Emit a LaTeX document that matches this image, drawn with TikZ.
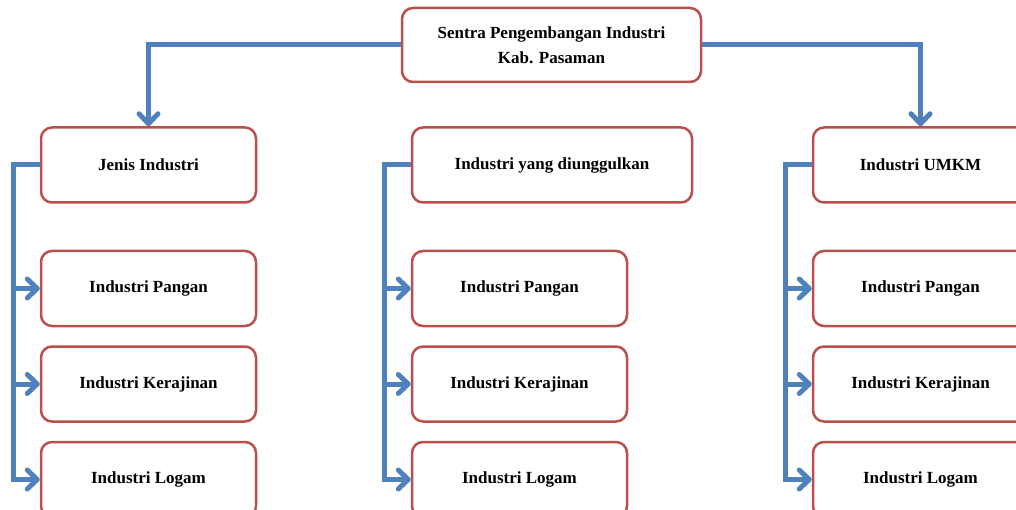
\documentclass[tikz,border=0pt]{standalone}
\usepackage{fontspec}
\setmainfont{Liberation Serif}
\usetikzlibrary{arrows.meta}
\usetikzlibrary{positioning}
\definecolor{boxred}{HTML}{B9504E}
\definecolor{linkblue}{HTML}{4F81BD}

\begin{document}
\begin{tikzpicture}[x=1pt,y=-1pt,
	kotak/.style={draw=boxred, line width=2.5pt, rounded corners=11pt, fill=white,
		minimum width=215pt, minimum height=75pt, align=center,
		font=\fontsize{17}{25}\selectfont\bfseries},
	garis/.style={draw=linkblue, line width=5pt},
	panah/.style={garis, -{Straight Barb[length=10pt,width=19pt,round]}}]
	\useasboundingbox (0,0) rectangle (1016,510);
	% draw top box
	\node[kotak, minimum width=299pt, minimum height=74pt] (sentra) at (551.5,45) {Sentra Pengembangan Industri\\Kab. Pasaman};
	% draw second level
	\node[kotak] (jenis) at (148.5,165) {Jenis Industri};
	\node[kotak, minimum width=280pt] (unggul) at (552,165) {Industri yang diunggulkan};
	\node[kotak] (umkm) at (920.5,165) {Industri UMKM};
	% add arrows from top
	\draw[panah] (sentra.west) -| (jenis.north);
	\draw[panah] (sentra.east) -| (umkm.north);
	% draw lists below each box
	\foreach \kol in {jenis,unggul,umkm}{
		\node[kotak, below=46pt of \kol.south west, anchor=north west] (\kol-1) {Industri Pangan};
		\node[kotak, below=18pt of \kol-1.south west, anchor=north west] (\kol-2) {Industri Kerajinan};
		\node[kotak, below=18pt of \kol-2.south west, anchor=north west] (\kol-3) {Industri Logam};
		\coordinate (\kol-s) at ([xshift=-26pt]\kol.west);
		\draw[panah] (\kol.west) -- (\kol-s) |- (\kol-3.west);
		\draw[panah] (\kol-s |- \kol-1.west) -- (\kol-1.west);
		\draw[panah] (\kol-s |- \kol-2.west) -- (\kol-2.west);
	}
\end{tikzpicture}
\end{document}
